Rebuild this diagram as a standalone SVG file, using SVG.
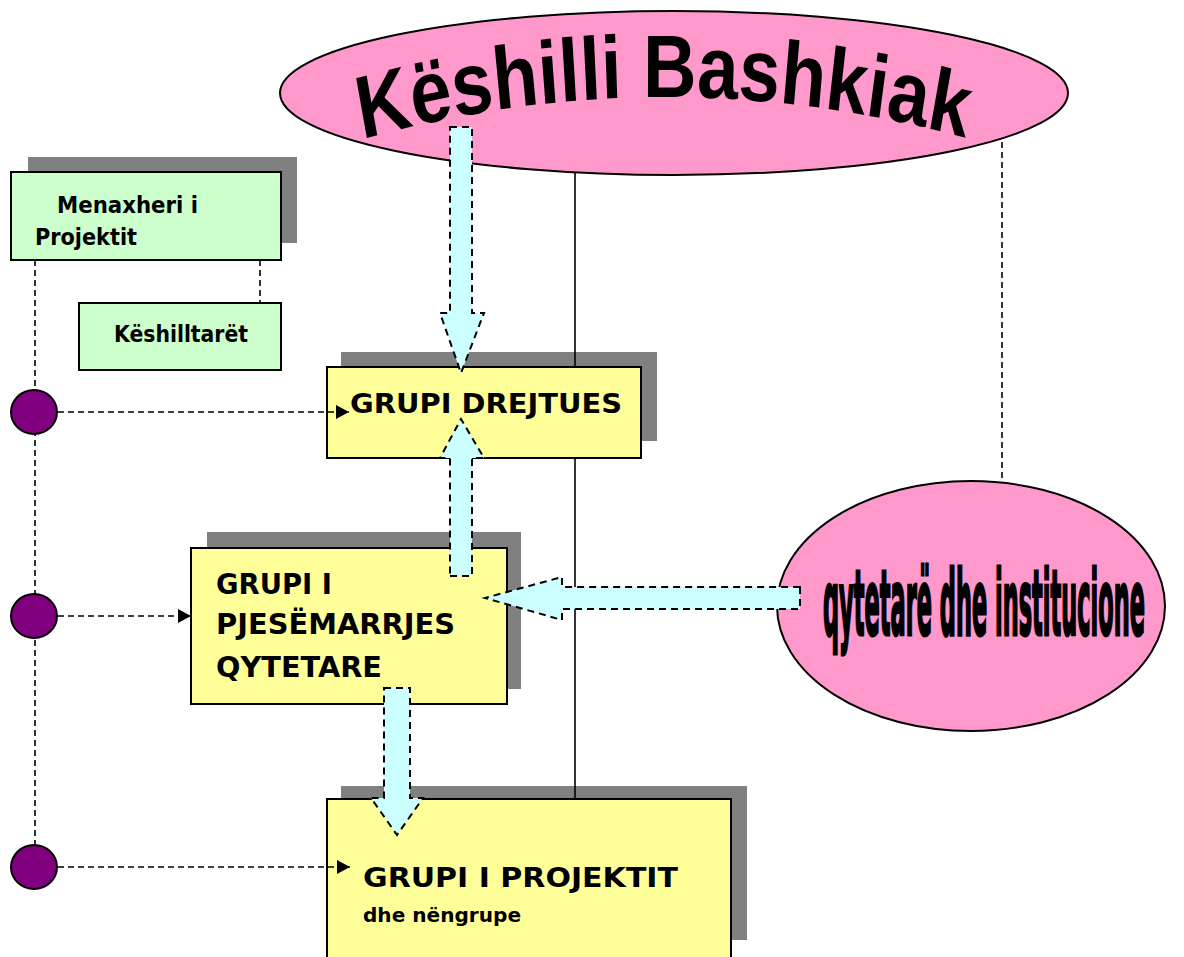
<svg xmlns="http://www.w3.org/2000/svg" width="1184" height="957" viewBox="0 0 1184 957">
<defs>
<style>
.shadow{fill:#808080}
.yel{fill:#FFFF99;stroke:#000;stroke-width:2}
.grn{fill:#CCFFCC;stroke:#000;stroke-width:2}
.pink{fill:#FF99CC;stroke:#000;stroke-width:2}
.dash{fill:none;stroke:#000;stroke-width:1.6;stroke-dasharray:6,4}
.solid{fill:none;stroke:#000;stroke-width:1.6}
.blk{fill:#CCFFFF;stroke:#000;stroke-width:2;stroke-dasharray:7,5}
.dot{fill:#800080;stroke:#000;stroke-width:2}
.t{font-family:"DejaVu Sans","Liberation Sans",sans-serif;font-weight:bold;fill:#000}
</style>
<marker id="ah" markerWidth="13" markerHeight="14" refX="13" refY="7" orient="auto" markerUnits="userSpaceOnUse">
<path d="M0,0 L13,7 L0,14 Z" fill="#000"/>
</marker>
<path id="arc" d="M 362,133 Q 665,62 972,133"/>
</defs>

<g id="shadows">
<rect class="shadow" x="28" y="157" width="269" height="86"/>
<rect class="shadow" x="341" y="352" width="316" height="89"/>
<rect class="shadow" x="207" y="532" width="314" height="157"/>
<rect class="shadow" x="341" y="786" width="406" height="154"/>
</g>

<g id="menaxheri">
<rect class="grn" x="11" y="172" width="270" height="88"/>
<text class="t" x="57" y="213" font-size="23" textLength="141" lengthAdjust="spacingAndGlyphs">Menaxheri i</text>
<text class="t" x="35" y="245" font-size="23" textLength="102" lengthAdjust="spacingAndGlyphs">Projektit</text>
</g>

<g id="keshilltaret">
<rect class="grn" x="79" y="303" width="202" height="67"/>
<text class="t" x="114" y="342" font-size="23" textLength="134" lengthAdjust="spacingAndGlyphs">Këshilltarët</text>
</g>

<g id="drejtues">
<rect class="yel" x="327" y="367" width="314" height="91"/>
<text class="t" x="350" y="413" font-size="27" textLength="272" lengthAdjust="spacingAndGlyphs">GRUPI DREJTUES</text>
</g>

<g id="pjesemarrjes">
<rect class="yel" x="191" y="548" width="316" height="156"/>
<text class="t" x="216" y="594" font-size="28" textLength="116" lengthAdjust="spacingAndGlyphs">GRUPI I</text>
<text class="t" x="216" y="634" font-size="28" textLength="239" lengthAdjust="spacingAndGlyphs">PJESËMARRJES</text>
<text class="t" x="216" y="677" font-size="28" textLength="166" lengthAdjust="spacingAndGlyphs">QYTETARE</text>
</g>

<g id="projektit">
<rect class="yel" x="327" y="799" width="404" height="170"/>
<text class="t" x="363" y="887" font-size="27" textLength="315" lengthAdjust="spacingAndGlyphs">GRUPI I PROJEKTIT</text>
<text class="t" x="363" y="922" font-size="20" textLength="158" lengthAdjust="spacingAndGlyphs">dhe nëngrupe</text>
</g>

<g id="connectors">
<line class="solid" x1="575" y1="172" x2="575" y2="367"/>
<line class="solid" x1="575" y1="458" x2="575" y2="799"/>
<line class="dash" x1="1002" y1="142" x2="1002" y2="482"/>
<line class="dash" x1="35" y1="260" x2="35" y2="866"/>
<line class="dash" x1="260" y1="260" x2="260" y2="303"/>
<line class="dash" x1="58" y1="412" x2="349" y2="412" marker-end="url(#ah)"/>
<line class="dash" x1="58" y1="616" x2="191" y2="616" marker-end="url(#ah)"/>
<line class="dash" x1="58" y1="867" x2="350" y2="867" marker-end="url(#ah)"/>
</g>

<g id="keshilli">
<ellipse class="pink" cx="674" cy="93" rx="394" ry="82"/>
<g transform="translate(0,-20) scale(1,1.2)">
<text font-family="'Liberation Sans',sans-serif" font-weight="bold" font-size="74" fill="#000"><textPath href="#arc">Këshilli Bashkiak</textPath></text>
</g>
</g>

<g id="qytetare">
<ellipse class="pink" cx="971" cy="606" rx="194" ry="125"/>
<text transform="translate(823,635) scale(1,2.5)" font-family="'DejaVu Sans Condensed','DejaVu Sans',sans-serif" font-weight="bold" font-size="36" fill="#000" stroke="#000" stroke-width="1.2" textLength="322" lengthAdjust="spacingAndGlyphs">qytetarë dhe institucione</text>
</g>

<g id="block-arrows">
<polygon class="blk" points="450,127 472,127 472,313 484,313 461,373 440,313 450,313"/>
<polygon class="blk" points="450,576 472,576 472,458 484,458 461,419 440,458 450,458"/>
<polygon class="blk" points="800,587 800,609 562,609 562,620 485,598 562,577 562,587"/>
<polygon class="blk" points="384,688 410,688 410,798 423,798 397,835 371,798 384,798"/>
</g>

<g id="dots">
<ellipse class="dot" cx="34" cy="412" rx="23" ry="22"/>
<ellipse class="dot" cx="34" cy="616" rx="23" ry="22"/>
<ellipse class="dot" cx="34" cy="867" rx="23" ry="22"/>
</g>
</svg>
